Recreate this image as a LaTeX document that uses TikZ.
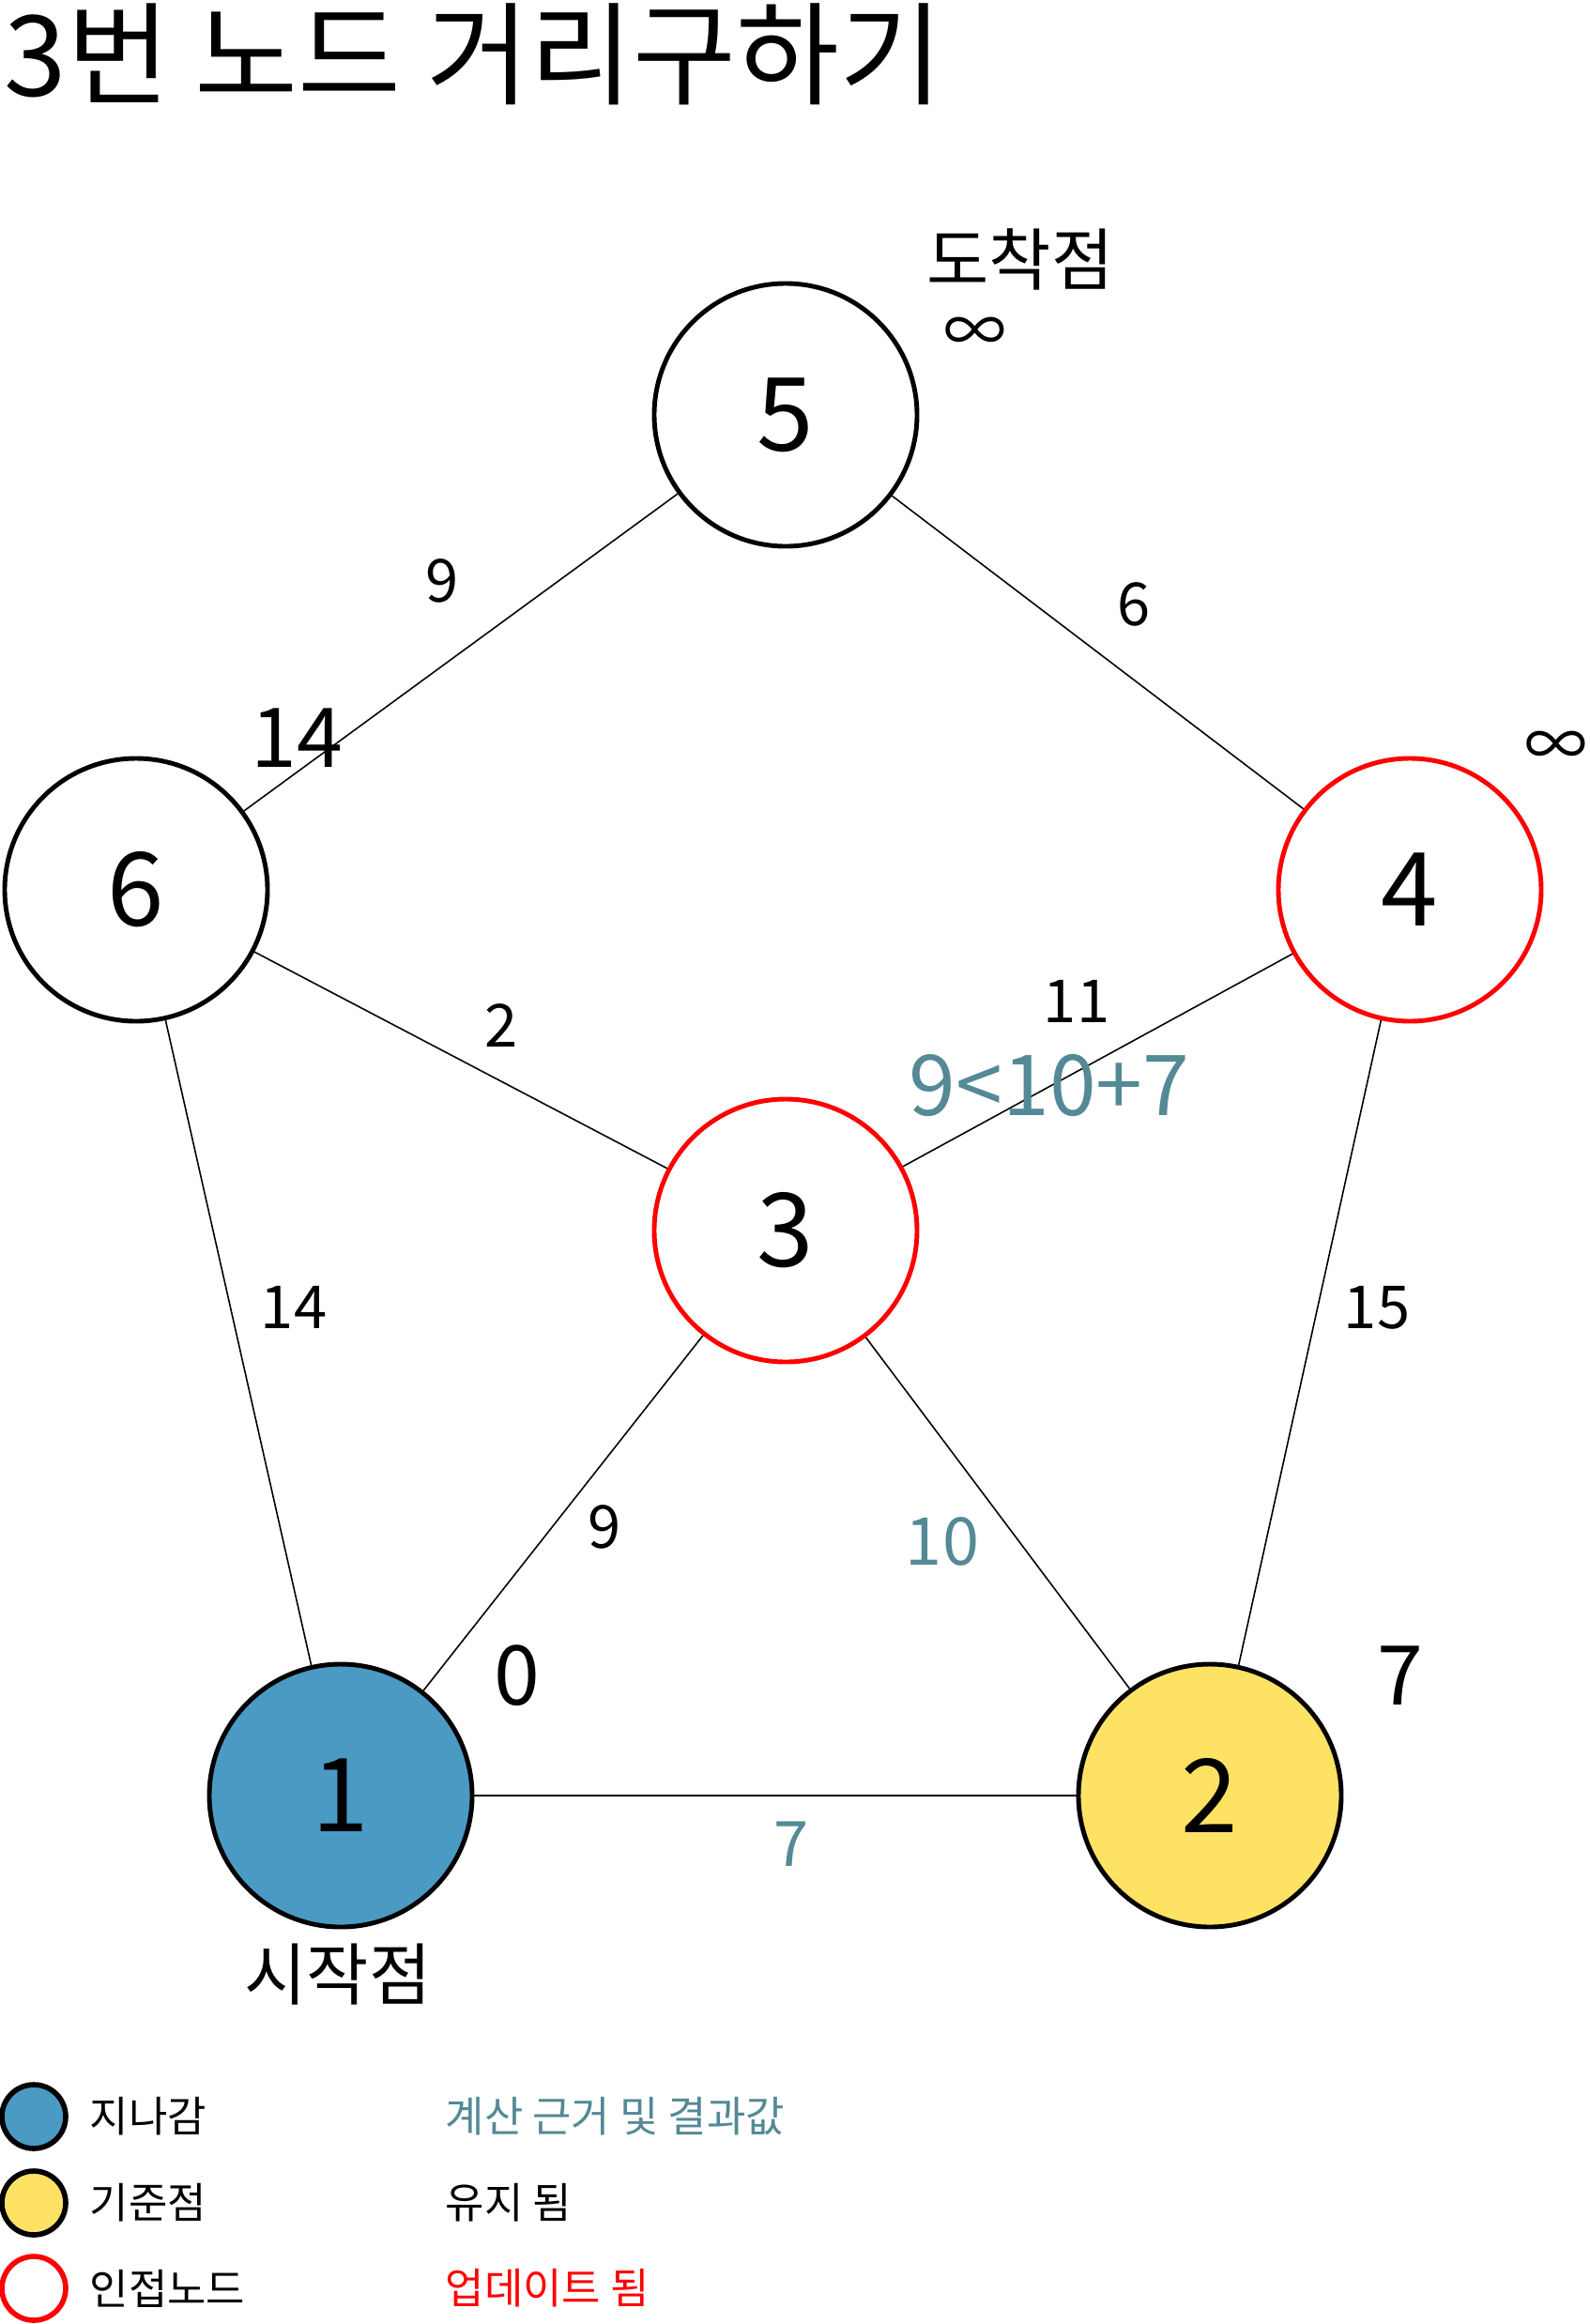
\documentclass[tikz,border=0pt]{standalone}
\usepackage{fontspec}
\setmainfont{Noto Sans CJK KR}
\usetikzlibrary{positioning}
\definecolor{calcteal}{RGB}{84,137,150}
\definecolor{passblue}{RGB}{74,154,196}
\definecolor{baseyellow}{RGB}{253,226,100}
\newcommand{\fsz}[1]{\fontsize{#1}{#1}\selectfont}

\begin{document}
\begin{tikzpicture}[
	vertex/.style={circle,draw,line width=1.4pt,minimum size=2.8cm,inner sep=0pt,font=\fsz{31pt}},
	wt/.style={inner sep=0pt,font=\fsz{18pt}},
	big/.style={inner sep=0pt,font=\fsz{25pt}},
	note/.style={inner sep=0pt,font=\fsz{20.5pt}},
	key/.style={circle,draw,line width=1.6pt,minimum size=0.68cm,inner sep=0pt},
	keytext/.style={inner sep=0pt,anchor=west,font=\fsz{12.8pt}},
	link/.style={line width=0.45pt}
	]
		\useasboundingbox (0,0) rectangle (16.93,-24.76);
		\begin{scope}
			\node[inner sep=0pt,anchor=base west,font=\fsz{34pt}] (title) at (0.04,-1.02) {3번 노드 거리구하기};

			\node[vertex] (n5) at (8.37,-4.42) {5};
			\node[vertex] (n6) at (1.45,-9.48) {6};
			\node[vertex,draw=red] (n4) at (15.02,-9.48) {4};
			\node[vertex,draw=red] (n3) at (8.37,-13.11) {3};
			\node[vertex,fill=passblue] (n1) at (3.63,-19.13) {1};
			\node[vertex,fill=baseyellow] (n2) at (12.89,-19.13) {2};

			\draw[link] (n5) -- (n6);
			\draw[link] (n5) -- (n4);
			\draw[link] (n6) -- (n3);
			\draw[link] (n4) -- (n3);
			\draw[link] (n6) -- (n1);
			\draw[link] (n4) -- (n2);
			\draw[link] (n3) -- (n1);
			\draw[link] (n3) -- (n2);
			\draw[link] (n1) -- (n2);

			\node[wt] (w56) at (4.71,-6.19) {9};
			\node[wt] (w54) at (12.08,-6.44) {6};
			\node[wt] (w63) at (5.34,-10.93) {2};
			\node[wt] (w43) at (11.47,-10.67) {11};
			\node[wt] (w61) at (3.13,-13.93) {14};
			\node[wt] (w42) at (14.67,-13.93) {15};
			\node[wt] (w31) at (6.44,-16.27) {9};
			\node[wt,font=\fsz{20pt},calcteal] (w32) at (10.04,-16.42) {10};
			\node[wt,font=\fsz{19pt},calcteal] (w12) at (8.43,-19.65) {7};

			\node[big] (d6) at (3.16,-7.86) {14};
			\node[big] (d1) at (5.51,-17.85) {0};
			\node[big] (d2) at (14.92,-17.85) {7};
			\node[inner sep=0pt,font=\fsz{25.5pt},calcteal] (calc) at (11.18,-11.57) {9<10+7};
			\node[note] (start) at (3.60,-21.04) {시작점};
			\node[note] (goal) at (10.87,-2.76) {도착점};
			\node[inner sep=0pt,font=\fsz{19pt}] (inf5) at (10.39,-3.57) {∞};
			\node[inner sep=0pt,font=\fsz{19pt}] (inf4) at (16.58,-7.98) {∞};
		\end{scope}
		\begin{scope}
			\node[key,fill=passblue] (k1) at (0.36,-22.55) {};
			\node[key,fill=baseyellow] (k2) at (0.36,-23.47) {};
			\node[key,draw=red] (k3) at (0.36,-24.38) {};
			\node[keytext] (t1) at (0.95,-22.55) {지나감};
			\node[keytext] (t2) at (0.95,-23.47) {기준점};
			\node[keytext] (t3) at (0.95,-24.38) {인접노드};
			\node[keytext,calcteal] (c1) at (4.74,-22.55) {계산 근거 및 결과값};
			\node[keytext] (c2) at (4.74,-23.47) {유지 됨};
			\node[keytext,red] (c3) at (4.74,-24.38) {업데이트 됨};
		\end{scope}
	\end{tikzpicture}
\end{document}
